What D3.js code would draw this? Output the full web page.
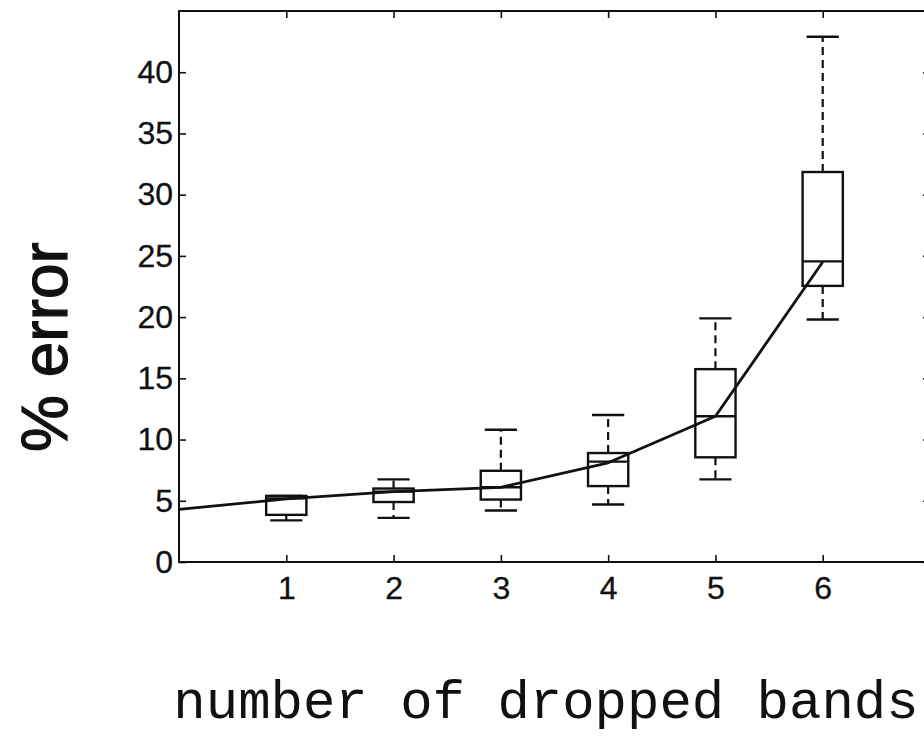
<!DOCTYPE html>
<html>
<head>
<meta charset="utf-8">
<script src="https://cdn.jsdelivr.net/npm/d3@7"></script>
<style>
  body { margin: 0; background: #fff; }
</style>
</head>
<body>
<div id="chart"></div>
<script>
// box plot values
const bands = [1, 2, 3, 4, 5, 6];
const whiskerLow = [3.4, 3.6, 4.2, 4.7, 6.75, 19.8];
const q1 = [3.85, 4.9, 5.1, 6.2, 8.55, 22.55];
const median = [5.2, 5.75, 6.1, 8.2, 11.9, 24.55];
const q3 = [5.4, 6.0, 7.45, 8.9, 15.75, 31.85];
const whiskerHigh = [5.4, 6.75, 10.8, 12.0, 19.9, 42.9];

// fitted trend line
const trendX = [0, 1, 2, 3, 4, 5, 6];
const trendY = [4.3, 5.15, 5.75, 6.1, 8.1, 11.9, 24.5];

const yTicks = [0, 5, 10, 15, 20, 25, 30, 35, 40];

const W = 924, H = 741;
const plot = { left: 179, right: 930, top: 11, bottom: 562 };

const svg = d3.select("#chart").append("svg")
    .attr("width", W)
    .attr("height", H);

const x = d3.scaleLinear().domain([0, 7]).range([plot.left, plot.right]);
const y = d3.scaleLinear().domain([0, 45]).range([plot.bottom, plot.top]);

const tickLen = 7;
const tickFont = "'Liberation Sans', Arial, sans-serif";

// frame
svg.append("rect")
    .attr("x", plot.left).attr("y", plot.top)
    .attr("width", plot.right - plot.left).attr("height", plot.bottom - plot.top)
    .attr("fill", "none")
    .attr("stroke", "#111")
    .attr("stroke-width", 2);

// axes with inward ticks
const yAxis = svg.append("g")
    .attr("transform", `translate(${plot.left},0)`)
    .call(d3.axisLeft(y).tickValues(yTicks).tickSizeInner(-tickLen).tickSizeOuter(0).tickPadding(6));

const yAxisR = svg.append("g")
    .attr("transform", `translate(${plot.right},0)`)
    .call(d3.axisRight(y).tickValues(yTicks).tickSizeInner(-tickLen).tickSizeOuter(0).tickFormat(""));

const xAxis = svg.append("g")
    .attr("transform", `translate(0,${plot.bottom})`)
    .call(d3.axisBottom(x).tickValues(bands).tickFormat(d3.format("d"))
        .tickSizeInner(-tickLen).tickSizeOuter(0).tickPadding(14));

const xAxisT = svg.append("g")
    .attr("transform", `translate(0,${plot.top})`)
    .call(d3.axisTop(x).tickValues(bands).tickSizeInner(-tickLen).tickSizeOuter(0).tickFormat(""));

[yAxis, yAxisR, xAxis, xAxisT].forEach(g => {
    g.select(".domain").remove();
    g.selectAll(".tick line").attr("stroke", "#111").attr("stroke-width", 1.6);
    g.selectAll(".tick text")
        .attr("fill", "#111")
        .attr("stroke", "#111")
        .attr("stroke-width", 0.3)
        .style("font-family", tickFont)
        .style("font-size", "32px");
});

// box plots
const boxW = 0.375, capW = 0.3;
const boxes = svg.append("g")
    .selectAll("g")
    .data(bands)
    .join("g");

boxes.each(function(b, i) {
    const g = d3.select(this);
    const cx = x(b);
    const hw = x(boxW / 2) - x(0);
    const cw = x(capW / 2) - x(0);

    // whiskers (dashed) and caps
    [[q3[i], whiskerHigh[i]], [q1[i], whiskerLow[i]]].forEach(([a, c]) => {
        g.append("line")
            .attr("x1", cx).attr("x2", cx)
            .attr("y1", y(a)).attr("y2", y(c))
            .attr("stroke", "#111")
            .attr("stroke-width", 2.2)
            .attr("stroke-dasharray", "8,5");
        g.append("line")
            .attr("x1", cx - cw).attr("x2", cx + cw)
            .attr("y1", y(c)).attr("y2", y(c))
            .attr("stroke", "#111")
            .attr("stroke-width", 2.4);
    });

    g.append("rect")
        .attr("x", cx - hw)
        .attr("y", y(q3[i]))
        .attr("width", 2 * hw)
        .attr("height", y(q1[i]) - y(q3[i]))
        .attr("fill", "none")
        .attr("stroke", "#111")
        .attr("stroke-width", 2.4);

    g.append("line")
        .attr("x1", cx - hw).attr("x2", cx + hw)
        .attr("y1", y(median[i])).attr("y2", y(median[i]))
        .attr("stroke", "#111")
        .attr("stroke-width", 2.4);
});

// trend curve
svg.append("path")
    .datum(trendX.map((v, i) => [v, trendY[i]]))
    .attr("fill", "none")
    .attr("stroke", "#111")
    .attr("stroke-width", 2.8)
    .attr("stroke-linejoin", "round")
    .attr("d", d3.line()
        .x(d => x(d[0]))
        .y(d => y(d[1])));

// axis titles
svg.append("text")
    .attr("transform", `translate(67,347) rotate(-90)`)
    .attr("text-anchor", "middle")
    .style("font-family", tickFont)
    .style("font-size", "64px")
    .attr("fill", "#111")
    .attr("stroke", "#111")
    .attr("stroke-width", 1.2)
    .text("% error");

svg.append("text")
    .attr("x", 546)
    .attr("y", 718)
    .attr("text-anchor", "middle")
    .style("font-family", "'Courier New', 'Liberation Mono', monospace")
    .style("font-size", "54px")
    .attr("fill", "#111")
    .text("number of dropped bands");
</script>
</body>
</html>
